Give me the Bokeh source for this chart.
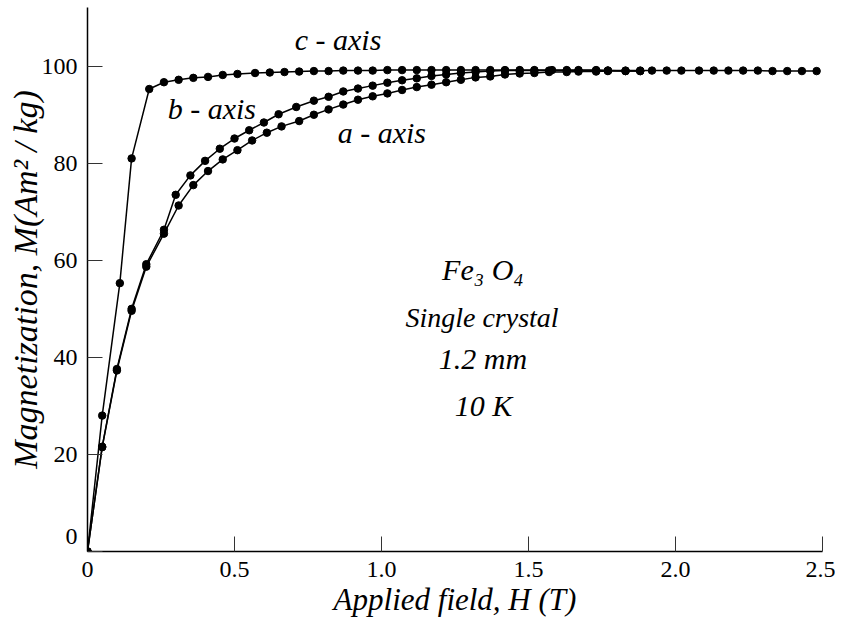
from bokeh.plotting import figure
from bokeh.models import FixedTicker, ColumnDataSource
from bokeh.core.properties import value
from bokeh.embed import file_html
from bokeh.resources import INLINE

# ---- data ----
c_H = [0, 0.05, 0.11, 0.15, 0.21, 0.26, 0.31, 0.36, 0.41, 0.46,
       0.51, 0.57, 0.62, 0.67, 0.72, 0.77, 0.82, 0.87, 0.92, 0.97,
       1.02, 1.07, 1.12, 1.17, 1.22, 1.27, 1.32, 1.37, 1.42, 1.47,
       1.52, 1.58, 1.63, 1.67, 1.73, 1.77, 1.83, 1.88, 1.92, 1.97,
       2.02, 2.08, 2.13, 2.18, 2.23, 2.28, 2.33, 2.38, 2.43, 2.48]
c_M = [0, 28.0, 55.3, 81.0, 95.3, 96.7, 97.2, 97.6, 97.8, 98.2,
       98.4, 98.6, 98.7, 98.8, 98.9, 99.0, 99.0, 99.1, 99.1, 99.1,
       99.2, 99.2, 99.2, 99.2, 99.2, 99.2, 99.2, 99.2, 99.2, 99.2,
       99.2, 99.2, 99.2, 99.2, 99.2, 99.1, 99.1, 99.1, 99.1, 99.1,
       99.1, 99.1, 99.1, 99.1, 99.1, 99.1, 99.0, 99.0, 99.0, 99.0]

b_H = [0, 0.05, 0.10, 0.15, 0.20, 0.26, 0.30, 0.35, 0.40, 0.45,
       0.50, 0.55, 0.60, 0.65, 0.71, 0.77, 0.82, 0.87, 0.92, 0.97,
       1.02, 1.07, 1.12, 1.17, 1.22, 1.27, 1.32, 1.37, 1.42, 1.47,
       1.52, 1.57, 1.63, 1.67, 1.73, 1.77, 1.83, 1.88]
b_M = [0, 21.6, 37.6, 50.0, 59.2, 66.3, 73.5, 77.5, 80.5, 83.0,
       85.1, 86.8, 88.4, 90.1, 91.6, 92.9, 93.7, 94.8, 95.4, 96.0,
       96.6, 97.1, 97.5, 98.0, 98.3, 98.6, 98.8, 99.0, 99.1, 99.1,
       99.1, 99.1, 99.1, 99.1, 99.1, 99.1, 99.0, 99.0]

a_H = [0, 0.05, 0.10, 0.15, 0.20, 0.26, 0.31, 0.36, 0.41, 0.46,
       0.51, 0.56, 0.61, 0.66, 0.72, 0.77, 0.82, 0.87, 0.92, 0.97,
       1.02, 1.07, 1.12, 1.17, 1.22, 1.27, 1.32, 1.37, 1.42, 1.47,
       1.52, 1.57, 1.63, 1.67, 1.73, 1.77, 1.83, 1.88]
a_M = [0, 21.5, 37.3, 49.6, 58.7, 65.5, 71.3, 75.5, 78.4, 80.8,
       82.7, 84.7, 86.3, 87.6, 88.7, 90.0, 91.1, 92.1, 93.1, 93.8,
       94.4, 95.1, 95.7, 96.2, 96.7, 97.2, 97.7, 97.9, 98.3, 98.5,
       98.6, 98.8, 98.8, 98.9, 98.9, 99.0, 99.0, 99.0]

x_ticks = [0, 0.5, 1.0, 1.5, 2.0, 2.5]
x_tick_labels = ["0", "0.5", "1.0", "1.5", "2.0", "2.5"]
y_ticks = [0, 20, 40, 60, 80, 100]
y_tick_labels = ["0\n ", "20", "40", "60", "80", "100"]   # the 0 sits raised, as in the original

ann_text = ["c - axis", "b - axis", "a - axis", "Fe\u2083 O\u2084", "Single crystal", "1.2 mm", "10 K"]
ann_x = [0.852, 0.423, 1.001, 1.345, 1.342, 1.345, 1.347]
ann_y = [105.5, 91.2, 86.3, 58.1, 48.3, 39.7, 30.1]
ann_size = ["30px", "30px", "30px", "30px", "28px", "30px", "30px"]

x_title = "Applied field, H (T)"
y_title = "Magnetization, M(Am\u00b2 / kg)"

SERIF = "Liberation Serif"

p = figure(width=835, height=625, x_range=(0, 2.5), y_range=(0, 112.1),
           output_backend="svg", toolbar_location=None,
           min_border_left=87, min_border_right=13, min_border_top=7, min_border_bottom=74)
p.outline_line_color = None
p.xgrid.visible = False
p.ygrid.visible = False
p.background_fill_color = "white"
p.border_fill_color = "white"

for ax in (p.xaxis[0], p.yaxis[0]):
    ax.axis_line_color = "black"
    ax.axis_line_width = 1.5
    ax.major_tick_in = 15
    ax.major_tick_out = 0
    ax.major_tick_line_color = "#333333"
    ax.major_tick_line_width = 1
    ax.minor_tick_line_color = None
    ax.major_label_text_font = SERIF
    ax.major_label_text_font_size = "24px"
    ax.major_label_text_color = "black"
    ax.major_label_standoff = 10
    ax.axis_label_text_font = SERIF
    ax.axis_label_text_font_style = "italic"
    ax.axis_label_text_color = "black"

p.xaxis[0].axis_label_text_font_size = "31px"
p.yaxis[0].axis_label_text_font_size = "34px"
p.xaxis[0].ticker = FixedTicker(ticks=x_ticks)
p.xaxis[0].major_label_overrides = {t: l for t, l in zip(x_ticks, x_tick_labels)}
p.yaxis[0].ticker = FixedTicker(ticks=y_ticks)
p.yaxis[0].major_label_overrides = {t: l for t, l in zip(y_ticks, y_tick_labels)}
p.xaxis[0].axis_label = x_title
p.yaxis[0].axis_label = y_title
p.xaxis[0].axis_label_standoff = 2
p.yaxis[0].axis_label_standoff = -5

for H, M in ((c_H, c_M), (b_H, b_M), (a_H, a_M)):
    src = ColumnDataSource(dict(H=H, M=M))
    p.line("H", "M", source=src, line_color="black", line_width=1.5)
    p.scatter("H", "M", source=src, size=7.5, fill_color="black", line_color="black")

ann = ColumnDataSource(dict(x=ann_x, y=ann_y, t=ann_text, s=ann_size))
p.text("x", "y", text="t", source=ann, text_font=value(SERIF), text_font_style="italic",
       text_font_size="s", text_align="center", text_baseline="alphabetic", text_color="black")

open("out.html", "w").write(file_html(p, INLINE))
